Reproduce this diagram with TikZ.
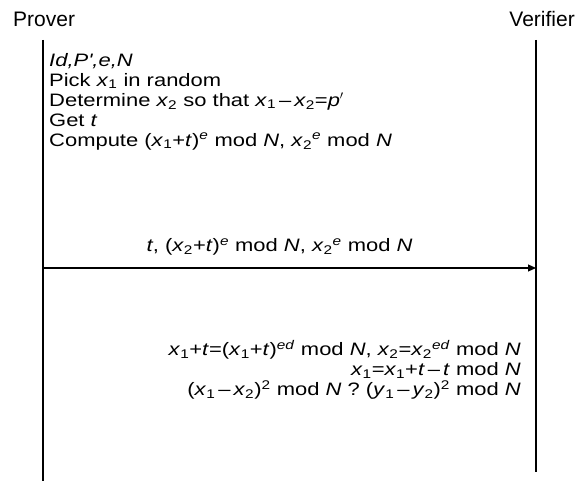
\documentclass[tikz,border=0pt]{standalone}
\usepackage{fontspec}
\setmainfont{Liberation Sans}
\newfontfamily\bodyfont{Liberation Sans}[FakeStretch=1.22]
\usetikzlibrary{arrows.meta}
\newcommand{\vi}[1]{\textit{#1}}
\newcommand{\vs}[2]{\textit{#1}\textsubscript{#2}}
\newcommand{\ve}[1]{\textsuperscript{\textit{#1}}}
\newcommand{\mn}{\,\textendash\,}
\begin{document}
\begin{tikzpicture}[x=1pt,y=-1pt,
  role/.style={font=\fontsize{21}{24}\selectfont, inner sep=0pt},
  txt/.style={font=\bodyfont\fontsize{18}{20}\selectfont, inner sep=0pt, align=left},
  rtxt/.style={font=\bodyfont\fontsize{18}{20}\selectfont, inner sep=0pt, align=right},
  life/.style={line width=1.2pt},
  msg/.style={line width=1.2pt, -{Triangle[length=8pt,width=7pt]}}]
\useasboundingbox (0,0) rectangle (586,481);
\node[role, anchor=base west] (p) at (13,27) {Prover};
\node[role, anchor=base east] (v) at (575,27) {Verifier};
\coordinate (pt) at (43,40);
\coordinate (pb) at (43,481);
\coordinate (vt) at (536,40);
\coordinate (vb) at (536,472);
\draw[life] (pt) -- (pb);
\draw[life] (vt) -- (vb);
\node[txt, anchor=north west] (steps) at (49,53) {\vi{Id,P',e,N}\\
Pick \vs{x}{1} in random\\
Determine \vs{x}{2} so that \vs{x}{1}\mn\vs{x}{2}=\vi{p}$'$\\
Get \vi{t}\\
Compute (\vs{x}{1}+\vi{t})\ve{e} mod \vi{N}, \vs{x}{2}\ve{e} mod \vi{N}};
\coordinate (as) at (43,268);
\coordinate (ae) at (536,268);
\draw[msg] (as) -- node[txt, above=12pt, pos=0.48] (lab) {\vi{t}, (\vs{x}{2}+\vi{t})\ve{e} mod \vi{N}, \vs{x}{2}\ve{e} mod \vi{N}} (ae);
\node[rtxt, anchor=north east] (ver) at (521,340) {\vs{x}{1}+\vi{t}=(\vs{x}{1}+\vi{t})\ve{ed} mod \vi{N}, \vs{x}{2}=\vs{x}{2}\ve{ed} mod \vi{N}\\
\vs{x}{1}=\vs{x}{1}+\vi{t}\mn\vi{t} mod \vi{N}\\
(\vs{x}{1}\mn\vs{x}{2})\textsuperscript{2} mod \vi{N} ? (\vs{y}{1}\mn\vs{y}{2})\textsuperscript{2} mod \vi{N}};
\end{tikzpicture}
\end{document}
